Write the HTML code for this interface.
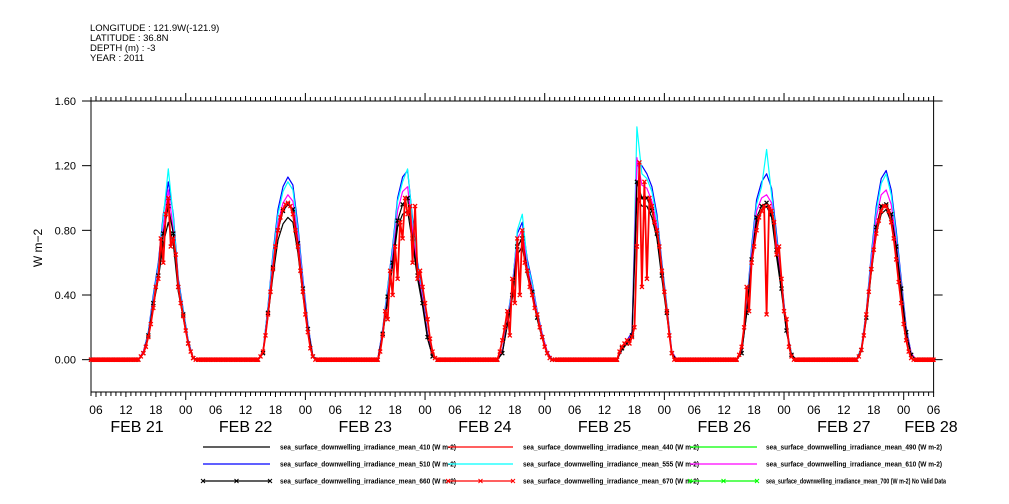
<!DOCTYPE html>
<html><head><meta charset="utf-8"><title>Irradiance chart</title>
<style>
body{margin:0;background:#fff;}
svg{display:block;font-family:"Liberation Sans",sans-serif;}
</style></head>
<body>
<svg id="chart" width="1009" height="504" viewBox="0 0 1009 504" xmlns="http://www.w3.org/2000/svg">
<g font-size="9.5" fill="#000">
<text x="90" y="31">LONGITUDE : 121.9W(-121.9)</text>
<text x="90" y="41">LATITUDE : 36.8N</text>
<text x="90" y="51">DEPTH (m) : -3</text>
<text x="90" y="61">YEAR : 2011</text>
</g>
<g id="axes"></g>
<g id="series"></g>
<g id="legend"></g>
</svg>
<script>
// ---- data ----
const dayLabels = ["FEB 21","FEB 22","FEB 23","FEB 24","FEB 25","FEB 26","FEB 27","FEB 28"];
const yTicks = [0.0, 0.4, 0.8, 1.2, 1.6];
const yTickLabels = ["0.00","0.40","0.80","1.20","1.60"];
const xHourLabels = ["06","12","18","00"];
const hourOffsets = [14.5,15.5,16.5,17.5,18.5,19.5,20.5,21.5,22.5,23.5,24.5,25.5,26.5];
const halfHourOffsets = [14.5,15,15.5,16,16.5,17,17.5,18,18.5,19,19.5,20,20.5,21,21.5,22,22.5,23,23.5,24,24.5,25,25.5,26,26.5];
const blue510 = [
[0,0.05,0.17,0.4,0.6,0.9,1.1,0.9,0.5,0.31,0.12,0.01,0],
[0,0.05,0.33,0.66,0.93,1.07,1.13,1.08,0.83,0.5,0.22,0.02,0],
[0,0.19,0.45,0.7,1.0,1.13,1.17,0.87,0.6,0.4,0.16,0.02,0],
[0,0.05,0.25,0.45,0.78,0.85,0.62,0.48,0.3,0.16,0.05,0,0],
[0,0.08,0.12,0.17,1.2,1.2,1.15,1.07,0.9,0.6,0.33,0.05,0],
[0,0.05,0.33,0.7,0.99,1.1,1.15,1.06,0.78,0.5,0.2,0.03,0],
[0,0.07,0.3,0.65,0.95,1.12,1.17,1.05,0.8,0.5,0.2,0.04,0]];
const cyan555 = [
[0,0.05,0.16,0.38,0.58,0.88,1.18,0.88,0.48,0.3,0.11,0.01,0],
[0,0.05,0.32,0.64,0.9,1.04,1.1,1.05,0.8,0.48,0.21,0.02,0],
[0,0.18,0.44,0.68,0.98,1.1,1.18,0.85,0.58,0.38,0.15,0.02,0],
[0,0.05,0.24,0.44,0.8,0.9,0.6,0.47,0.29,0.15,0.05,0,0],
[0,0.07,0.11,0.16,1.44,1.15,1.12,1.04,0.87,0.58,0.32,0.05,0],
[0,0.05,0.32,0.68,0.96,1.07,1.3,1.02,0.75,0.48,0.19,0.03,0],
[0,0.07,0.29,0.63,0.92,1.09,1.15,1.02,0.77,0.48,0.19,0.04,0]];
const magenta610 = [
[0,0.05,0.15,0.36,0.55,0.82,1.05,0.8,0.46,0.28,0.1,0.01,0],
[0,0.05,0.3,0.6,0.85,0.97,1.02,0.98,0.76,0.46,0.2,0.02,0],
[0,0.17,0.41,0.64,0.92,1.04,1.07,0.8,0.55,0.37,0.15,0.02,0],
[0,0.05,0.23,0.42,0.75,0.8,0.57,0.44,0.28,0.15,0.05,0,0],
[0,0.07,0.11,0.16,1.25,1.08,1.06,0.98,0.83,0.55,0.3,0.05,0],
[0,0.05,0.3,0.65,0.92,1.0,1.02,0.97,0.72,0.46,0.18,0.03,0],
[0,0.06,0.28,0.6,0.88,1.02,1.05,0.96,0.73,0.46,0.18,0.04,0]];
const black410 = [
[0,0.04,0.14,0.33,0.5,0.72,0.85,0.72,0.42,0.26,0.1,0.01,0],
[0,0.04,0.27,0.52,0.74,0.84,0.88,0.85,0.66,0.4,0.18,0.02,0],
[0,0.15,0.37,0.58,0.82,0.9,0.92,0.72,0.5,0.33,0.13,0.02,0],
[0,0.04,0.21,0.38,0.65,0.7,0.52,0.4,0.25,0.13,0.04,0,0],
[0,0.06,0.1,0.14,1.0,0.95,0.95,0.88,0.75,0.5,0.27,0.04,0],
[0,0.04,0.28,0.6,0.85,0.93,0.95,0.88,0.64,0.42,0.17,0.03,0],
[0,0.05,0.25,0.54,0.78,0.9,0.93,0.85,0.65,0.41,0.16,0.03,0]];
const black660 = [
[0,0.04,0.15,0.35,0.52,0.78,0.95,0.78,0.45,0.28,0.1,0.01,0],
[0,0.04,0.29,0.57,0.8,0.92,0.96,0.93,0.72,0.44,0.19,0.02,0],
[0,0.16,0.39,0.6,0.86,0.96,1.0,0.75,0.52,0.35,0.14,0.02,0],
[0,0.04,0.22,0.4,0.7,0.75,0.55,0.42,0.26,0.14,0.04,0,0],
[0,0.07,0.1,0.15,1.1,1.0,1.0,0.92,0.78,0.52,0.29,0.04,0],
[0,0.04,0.29,0.62,0.88,0.95,0.97,0.9,0.68,0.44,0.18,0.03,0],
[0,0.06,0.26,0.56,0.82,0.95,0.96,0.9,0.7,0.44,0.17,0.03,0]];
const red670 = [
[0,0.02,0.04,0.08,0.14,0.22,0.32,0.45,0.5,0.75,0.6,0.9,1.0,0.7,0.75,0.65,0.45,0.35,0.27,0.18,0.1,0.05,0.01,0,0],
[0,0.02,0.05,0.15,0.28,0.42,0.56,0.7,0.8,0.88,0.93,0.96,0.97,0.95,0.9,0.8,0.7,0.55,0.42,0.28,0.17,0.07,0.02,0,0],
[0,0.05,0.15,0.3,0.25,0.55,0.4,0.7,0.5,0.85,0.75,1.0,0.9,0.95,0.6,0.95,0.5,0.55,0.45,0.35,0.25,0.13,0.05,0.01,0],
[0,0.05,0.12,0.2,0.3,0.15,0.5,0.35,0.75,0.4,0.8,0.6,0.55,0.45,0.4,0.32,0.28,0.2,0.14,0.08,0.04,0.01,0,0,0],
[0,0.05,0.08,0.1,0.12,0.1,0.14,0.2,0.7,1.22,0.45,1.1,0.5,1.0,0.95,0.85,0.8,0.7,0.55,0.42,0.3,0.15,0.04,0,0],
[0,0.03,0.08,0.2,0.45,0.3,0.6,0.7,0.8,0.88,0.92,0.95,0.28,0.95,0.92,0.85,0.65,0.7,0.5,0.3,0.25,0.08,0.02,0,0],
[0,0.02,0.06,0.15,0.28,0.42,0.56,0.68,0.78,0.86,0.92,0.95,0.95,0.92,0.85,0.75,0.62,0.48,0.35,0.22,0.12,0.05,0.01,0,0]];

// ---- scales ----
const H0 = 5, H1 = 174;
const PX0 = 91, PX1 = 933.6;
const YMIN = -0.2, YMAX = 1.6, PY0 = 392, PY1 = 101;
function xs(h){ return PX0 + (h - H0) * (PX1 - PX0) / (H1 - H0); }
function ys(v){ return PY0 - (v - YMIN) * (PY0 - PY1) / (YMAX - YMIN); }
const NS = "http://www.w3.org/2000/svg";
function mk(tag, attrs, parent){ const e = document.createElementNS(NS, tag); for (const k in attrs) e.setAttribute(k, attrs[k]); parent.appendChild(e); return e; }

// ---- axes ----
const ax = document.getElementById('axes');
const frame = mk('rect', {x:PX0, y:PY1, width:PX1-PX0, height:PY0-PY1, fill:'none', stroke:'#000', 'stroke-width':1}, ax);


for (let h = H0; h <= H1; h++) {
  const x = xs(h), major = (h % 24 === 0), mid = (h % 6 === 0);
  const len = major ? 8 : (mid ? 5 : 4);
  const t1 = mk('line', {x1:x, x2:x, y1:PY0, y2:PY0+len, stroke:'#000', 'stroke-width':1}, ax);
  
  
  const t2 = mk('line', {x1:x, x2:x, y1:PY1, y2:PY1-len, stroke:'#000', 'stroke-width':1}, ax);
  
  
  if (mid) {
    const lb = mk('text', {x:x, y:414, 'font-size':12, 'text-anchor':'middle'}, ax);
    lb.textContent = xHourLabels[((h / 6) - 1 + 4) % 4];
    
    
  }
}
dayLabels.forEach((d, i) => {
  let x = xs(24 * i + 12);
  if (i === 0) x = 137;
  if (i === dayLabels.length - 1) x = 931;
  const t = mk('text', {x:x, y:432, 'font-size':16, 'text-anchor':'middle'}, ax);
  t.textContent = d;
  
  
});
yTicks.forEach((v, i) => {
  const y = ys(v);
  const a = mk('line', {x1:PX0-9, x2:PX0, y1:y, y2:y, stroke:'#000'}, ax);
  
  
  const b = mk('line', {x1:PX1, x2:PX1+9, y1:y, y2:y, stroke:'#000'}, ax);
  
  
  const t = mk('text', {x:76, y:y+4, 'font-size':11, 'text-anchor':'end'}, ax);
  t.textContent = yTickLabels[i];
  
  
});
const yt = mk('text', {x:0, y:0, 'font-size':12, 'text-anchor':'middle', transform:'translate(42,248) rotate(-90)'}, ax);
yt.textContent = "W m\u22122";



// ---- series ----
const sg = document.getElementById('series');
function buildPoints(arr, offs, step) {
  const pts = [];
  for (let h = H0; h < offs[0]; h += step) pts.push([h, 0]);
  arr.forEach((day, d) => {
    day.forEach((v, j) => pts.push([24 * d + offs[j], v]));
    const end = (d < arr.length - 1) ? 24 * (d + 1) + offs[0] : H1 + step / 2;
    for (let h = 24 * d + offs[offs.length - 1] + step; h < end; h += step) pts.push([h, 0]);
  });
  return pts.filter(p => p[0] >= H0 && p[0] <= H1);
}
function drawSeries(arr, offs, step, color, width, name, markers) {
  const pts = buildPoints(arr, offs, step);
  const pl = mk('polyline', {points: pts.map(p => xs(p[0]).toFixed(1) + ',' + ys(p[1]).toFixed(1)).join(' '), fill:'none', stroke:color, 'stroke-width':width, 'stroke-linejoin':'round'}, sg);
  
  
  if (markers) {
    let d = '';
    pts.forEach(p => { const x = xs(p[0]), y = ys(p[1]); d += `M${x-2},${y-2}L${x+2},${y+2}M${x-2},${y+2}L${x+2},${y-2}`; });
    const m = mk('path', {d:d, stroke:color, 'stroke-width':1.3, fill:'none'}, sg);
    
    
  }
}
drawSeries(black410, hourOffsets, 1, '#000', 1.2, 'series-410', false);
drawSeries(blue510, hourOffsets, 1, '#0000ff', 1.2, 'series-510', false);
drawSeries(cyan555, hourOffsets, 1, '#00ffff', 1.2, 'series-555', false);
drawSeries(magenta610, hourOffsets, 1, '#ff00ff', 1.2, 'series-610', false);
drawSeries(black660, hourOffsets, 1, '#000', 1.2, 'series-660', true);
drawSeries(red670, halfHourOffsets, 0.25, '#ff0000', 1.8, 'series-670', true);

// ---- legend ----
const lg = document.getElementById('legend');
const legendNames = ["sea_surface_downwelling_irradiance_mean_410 (W m-2)","sea_surface_downwelling_irradiance_mean_440 (W m-2)","sea_surface_downwelling_irradiance_mean_490 (W m-2)",
"sea_surface_downwelling_irradiance_mean_510 (W m-2)","sea_surface_downwelling_irradiance_mean_555 (W m-2)","sea_surface_downwelling_irradiance_mean_610 (W m-2)",
"sea_surface_downwelling_irradiance_mean_660 (W m-2)","sea_surface_downwelling_irradiance_mean_670 (W m-2)","sea_surface_downwelling_irradiance_mean_700 (W m-2) No Valid Data"];
const legendColors = ['#000','#ff0000','#00ff00','#0000ff','#00ffff','#ff00ff','#000','#ff0000','#00ff00'];
const colLine = [[203,270],[448,513],[690,757]];
const colText = [280,523,766];
const rowY = [447,464,481];
legendNames.forEach((n, i) => {
  const r = Math.floor(i / 3), c = i % 3, y = rowY[r];
  const ln = mk('line', {x1:colLine[c][0], x2:colLine[c][1], y1:y, y2:y, stroke:legendColors[i], 'stroke-width':1.3}, lg);
  
  
  if (r === 2) {
    [0, 0.5, 1].forEach(f => {
      const x = colLine[c][0] + f * (colLine[c][1] - colLine[c][0]);
      const m = mk('path', {d:`M${x-2},${y-2}L${x+2},${y+2}M${x-2},${y+2}L${x+2},${y-2}`, stroke:legendColors[i], fill:'none'}, lg);
      
      
    });
  }
  const t = mk('text', {x:colText[c], y:y+2.5, 'font-size':7, 'font-weight':'bold', textLength: (i === 8 ? 180 : 176), lengthAdjust:'spacingAndGlyphs'}, lg);
  t.textContent = n;
  
  
});
</script>
</body></html>
